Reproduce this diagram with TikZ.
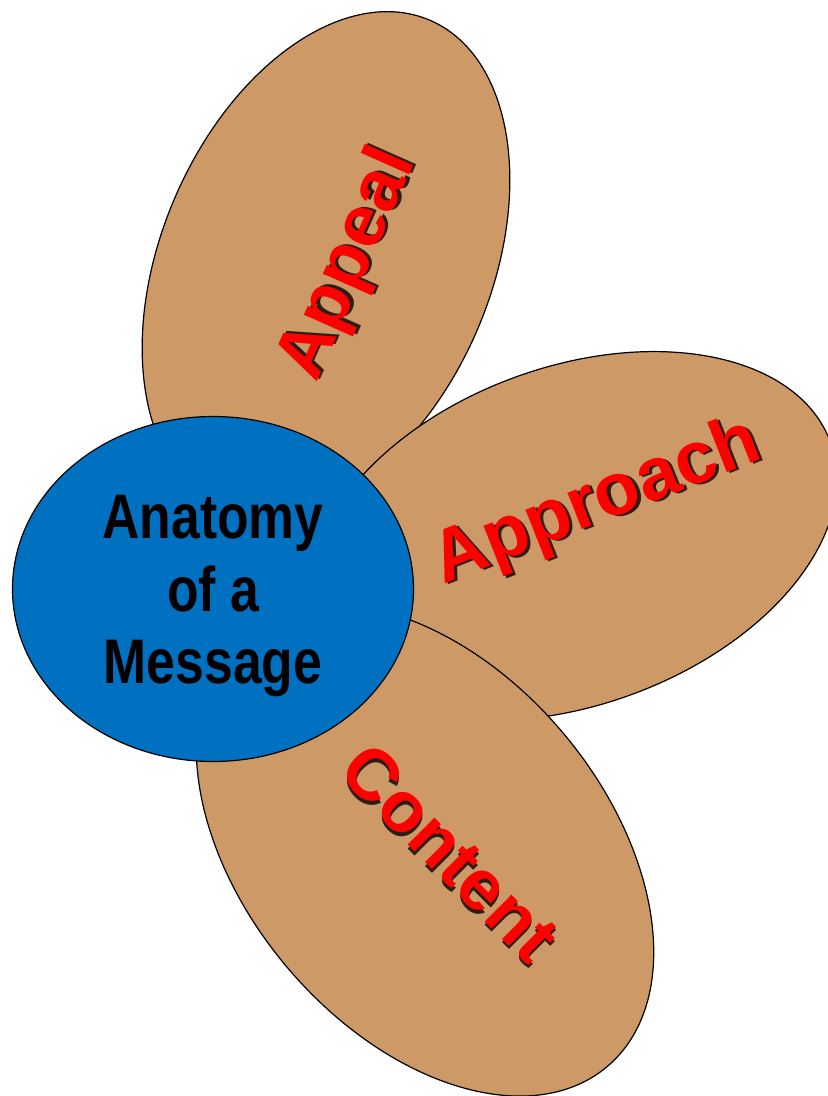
\documentclass[tikz,border=0pt]{standalone}
\usepackage{fontspec}
\setmainfont{Liberation Sans}
\newfontfamily\narrowfont{Liberation Sans}[FakeStretch=0.82]
\usetikzlibrary{shapes.geometric}
\definecolor{petaltan}{RGB}{205,153,102}
\definecolor{hubblue}{RGB}{0,112,192}
\definecolor{labelred}{RGB}{255,0,0}
\newcommand\shadowedlabel[1]{%
  \rlap{\kern2.5pt\raisebox{-2.5pt}{\textcolor{black!80!petaltan}{#1}}}#1}
\begin{document}
\begin{tikzpicture}[x=1pt,y=-1pt,
  petal/.style={ellipse, draw=black, line width=1.2pt, fill=petaltan, inner sep=0pt},
  hub/.style={ellipse, draw=black, line width=1.2pt, fill=hubblue, inner sep=0pt,
              minimum width=401pt, minimum height=345pt},
  hubtext/.style={font=\narrowfont\bfseries\fontsize{63}{72.5}\selectfont,
                  align=center, text=black, inner sep=0pt},
  lbl/.style={font=\bfseries\fontsize{#1}{#1}\selectfont, anchor=base, inner sep=0pt, text=labelred}
]
\useasboundingbox (0,0) rectangle (828,1096);
% petals
\node[petal, minimum width=530pt, minimum height=330pt, rotate=67] (appealpetal) at (326,264) {};
\node[petal, minimum width=548pt, minimum height=338pt, rotate=20] (approachpetal) at (573,536) {};
\node[petal, minimum width=566pt, minimum height=362pt, rotate=-50] (contentpetal) at (425,850) {};
% hub
\node[hub] (hub) at (213,589) {};
\node[hubtext] (hubtxt) at (213,596) {Anatomy\\of a\\Message};
% labels
\node[lbl=73, rotate=66] (appeal) at (366,272) {\shadowedlabel{Appeal}};
\node[lbl=74, rotate=21.5] (approach) at (604,521) {\shadowedlabel{Approach}};
\node[lbl=72, rotate=-45] (content) at (433,870) {\shadowedlabel{Content}};
\end{tikzpicture}
\end{document}
